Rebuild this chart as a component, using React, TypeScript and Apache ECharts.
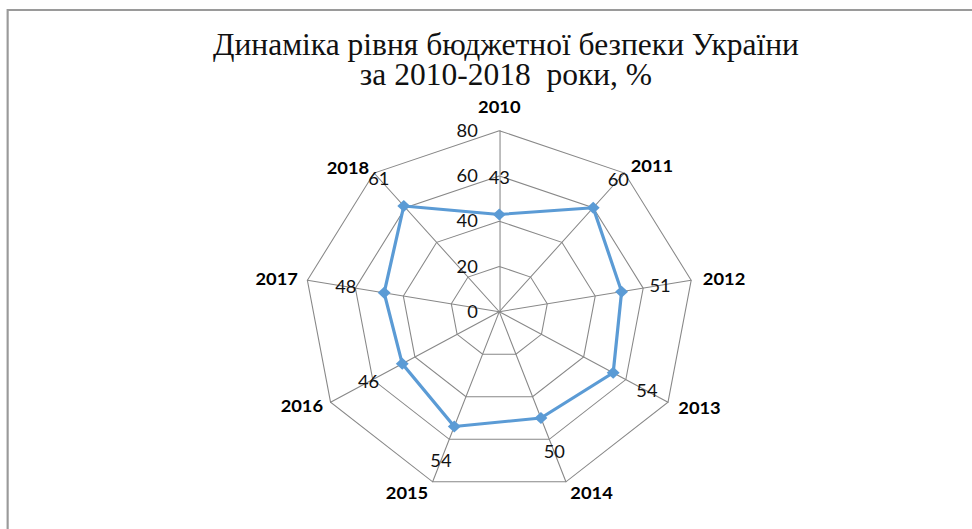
import React, { useEffect, useRef } from "react";
import * as echarts from "echarts";

// ---- data ----
const YEARS = ["2010", "2011", "2012", "2013", "2014", "2015", "2016", "2017", "2018"];
const VALUES = [43, 60, 51, 54, 50, 54, 46, 48, 61];
const AXIS_MIN = 0;
const AXIS_MAX = 80;
const SPLIT_NUMBER = 4;
const TITLE_LINES = ["Динаміка рівня бюджетної безпеки України", "за 2010-2018  роки, %"];

// ---- layout / style ----
const STRETCH_X = 1.0765; // the reference is stretched horizontally
const BASE_W = 903;
const BASE_H = 529;
const LABEL_OFFSET = 16; // radial distance (in value units) of the data labels from the points
const NAME_GAPS = [15, 9, 11, 11, 12, 12, 8, 9, 7]; // per-year gap of the category names
const GRID_COLOR = "#888888";
const LINE_COLOR = "#5B9BD5";

export default function App() {
  const ref = useRef<HTMLDivElement>(null);

  useEffect(() => {
    if (!ref.current) return;
    const chart = echarts.init(ref.current, null, { renderer: "svg" });
    const n = YEARS.length;
    // ECharts lays indicators counter-clockwise; reorder so years run clockwise
    const order = YEARS.map((_, i) => (n - i) % n);

    const indicator = order.map((k, j) => ({
      name: YEARS[k],
      min: AXIS_MIN,
      max: AXIS_MAX,
      nameGap: NAME_GAPS[k],
      ...(j === 0 ? { axisLabel: { show: true } } : {}),
    }));

    const titleStyle = {
      fontFamily: "Liberation Serif",
      fontSize: 32,
      fill: "#111",
      textAlign: "center",
      textVerticalAlign: "middle",
    };

    chart.setOption({
      animation: false,
      backgroundColor: "#ffffff",
      graphic: [
        {
          type: "rect",
          silent: true,
          shape: { x: 7.1, y: 10, width: 1200, height: 800 },
          style: { fill: "none", stroke: "#9a9a9a", lineWidth: 2 },
        },
        {
          type: "text",
          x: 470,
          y: 44.2,
          scaleX: 0.915,
          style: { ...titleStyle, text: TITLE_LINES[0] },
        },
        {
          type: "text",
          x: 470,
          y: 74.7,
          scaleX: 0.915,
          style: { ...titleStyle, text: TITLE_LINES[1] },
        },
      ],
      radar: {
        center: [463.8, 311.7],
        radius: 181,
        startAngle: 90,
        shape: "polygon",
        splitNumber: SPLIT_NUMBER,
        indicator,
        nameGap: 12,
        axisName: {
          color: "#000",
          fontWeight: "bold",
          fontSize: 17,
          fontFamily: "Lato",
        },
        splitLine: { lineStyle: { color: GRID_COLOR, width: 1 } },
        splitArea: { show: false },
        axisLine: { lineStyle: { color: GRID_COLOR, width: 1 } },
        axisTick: { show: false },
        axisLabel: {
          show: false,
          color: "#111",
          fontSize: 17,
          fontFamily: "Lato",
          margin: 20,
        },
      },
      series: [
        {
          type: "radar",
          z: 3,
          data: [
            {
              value: order.map((k) => VALUES[k]),
              symbol: "diamond",
              symbolSize: 12,
              lineStyle: { color: LINE_COLOR, width: 3 },
              itemStyle: { color: LINE_COLOR },
            },
          ],
        },
        {
          type: "radar",
          silent: true,
          z: 4,
          data: [
            {
              value: order.map((k) => VALUES[k] + LABEL_OFFSET),
              symbol: "circle",
              symbolSize: 0,
              lineStyle: { width: 0, opacity: 0 },
              itemStyle: { color: "transparent" },
              label: {
                show: true,
                position: "inside",
                color: "#111",
                fontSize: 17,
                fontFamily: "Lato",
                formatter: (p: any) => String(p.value - LABEL_OFFSET),
              },
            },
          ],
        },
      ],
    });
    return () => chart.dispose();
  }, []);

  return (
    <div
      ref={ref}
      style={{
        position: "absolute",
        left: 0,
        top: 0,
        width: BASE_W,
        height: BASE_H,
        transform: `scaleX(${STRETCH_X})`,
        transformOrigin: "0 0",
        background: "#fff",
      }}
    />
  );
}
